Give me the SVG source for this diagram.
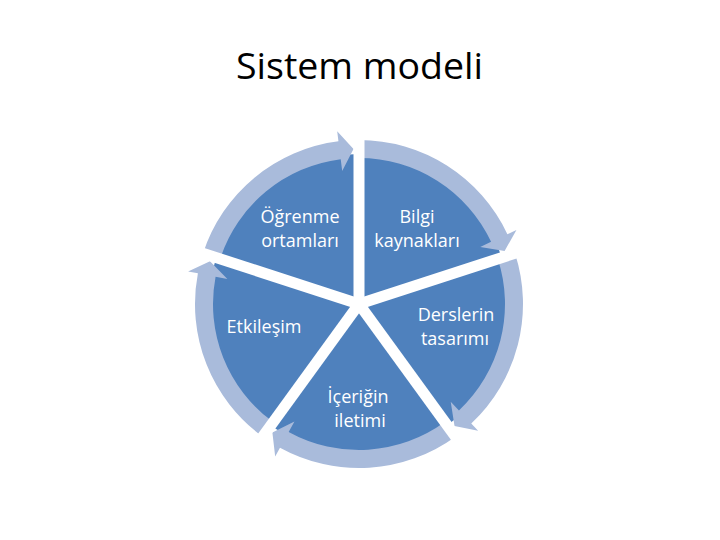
<svg xmlns="http://www.w3.org/2000/svg" xmlns:xlink="http://www.w3.org/1999/xlink" width="720" height="540" viewBox="0 0 720 540">
  <style>
    .title { font-family: "Open Sans", "Liberation Sans", sans-serif; font-size: 36px; fill: #000000; }
    .lbl { font-family: "Open Sans", "Liberation Sans", sans-serif; font-size: 18px; fill: #FFFFFF; text-anchor: middle; }
    .band { fill: #A9BBDB; }
    .gap { stroke: #FFFFFF; stroke-width: 11; }
  </style>
  <defs>
    <path id="seg" class="band" d="M 203.03 253.32 A 164 164 0 0 1 338.45 141.29 L 337.19 131.37 L 353.51 149.10 L 342.21 171.06 L 340.70 159.15 A 146 146 0 0 0 220.15 258.88 Z"/>
  </defs>
  <rect width="720" height="540" fill="#FFFFFF"/>
  <text class="title" x="236" y="79" textLength="247" lengthAdjust="spacingAndGlyphs">Sistem modeli</text>

  <g id="pie">
    <circle cx="359" cy="304" r="150" fill="#4F81BD"/>
  </g>

  <g id="connectors">
    <use xlink:href="#seg"/>
    <use xlink:href="#seg" transform="rotate(72 359 304)"/>
    <use xlink:href="#seg" transform="rotate(144 359 304)"/>
    <use xlink:href="#seg" transform="rotate(216 359 304)"/>
    <use xlink:href="#seg" transform="rotate(288 359 304)"/>
  </g>

  <g id="gaps">
    <line class="gap" x1="359" y1="304" x2="359" y2="116"/>
    <line class="gap" x1="359" y1="304" x2="537.8" y2="245.9"/>
    <line class="gap" x1="359" y1="304" x2="469.5" y2="456.1"/>
    <line class="gap" x1="359" y1="304" x2="248.5" y2="456.1"/>
    <line class="gap" x1="359" y1="304" x2="180.2" y2="245.9"/>
  </g>

  <g id="node-ogrenme">
    <text class="lbl" x="300" y="223">Öğrenme</text>
    <text class="lbl" x="300" y="247">ortamları</text>
  </g>
  <g id="node-bilgi">
    <text class="lbl" x="417" y="223">Bilgi</text>
    <text class="lbl" x="417" y="247">kaynakları</text>
  </g>
  <g id="node-derslerin">
    <text class="lbl" x="456" y="321">Derslerin</text>
    <text class="lbl" x="455" y="345">tasarımı</text>
  </g>
  <g id="node-iceriğin">
    <text class="lbl" x="358" y="403">İçeriğin</text>
    <text class="lbl" x="360" y="427">iletimi</text>
  </g>
  <g id="node-etkilesim">
    <text class="lbl" x="264" y="333">Etkileşim</text>
  </g>
</svg>
